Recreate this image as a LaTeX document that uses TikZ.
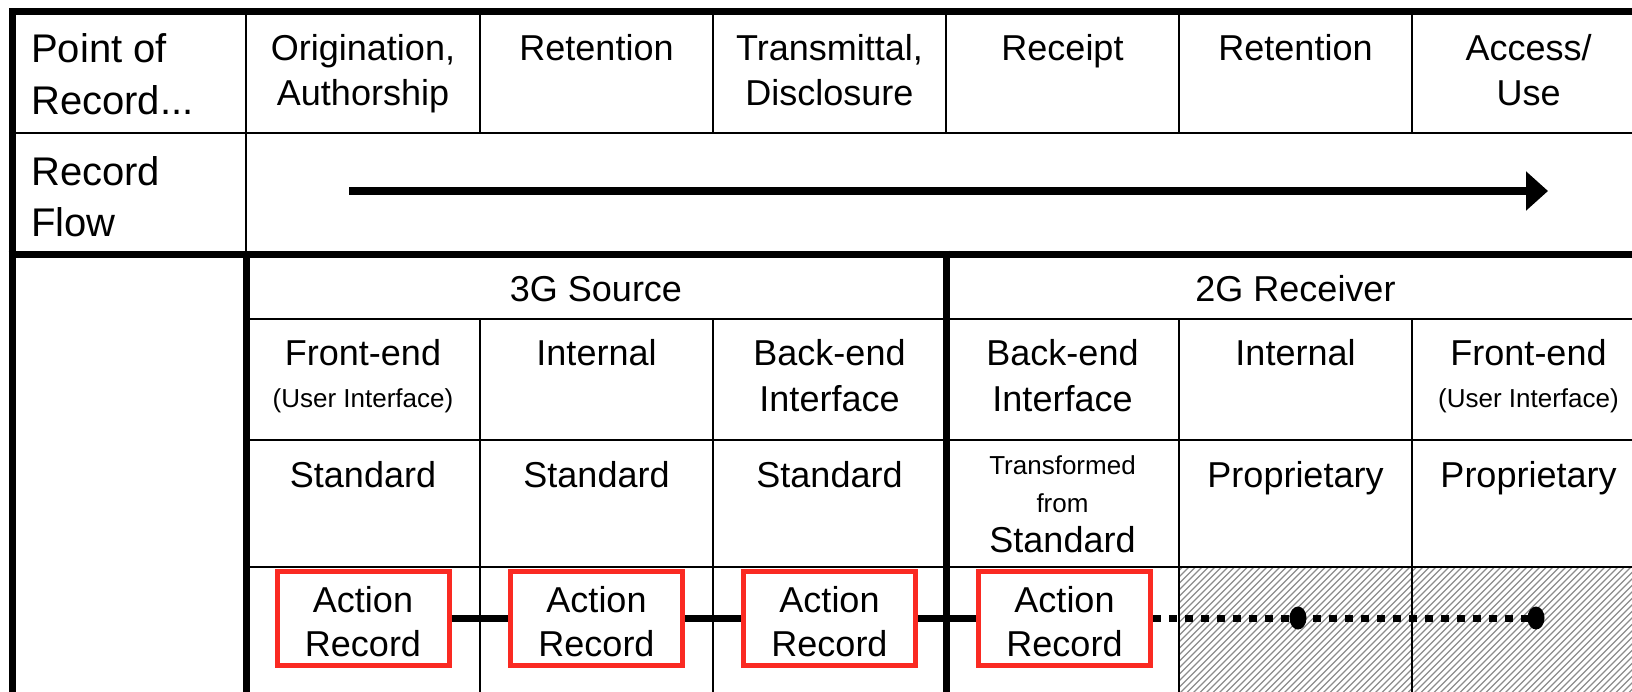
\documentclass[tikz,border=0pt]{standalone}
\usepackage{fontspec}
\setmainfont{Liberation Sans}
\usetikzlibrary{arrows.meta,shapes.geometric}
\definecolor{boxred}{RGB}{250,42,34}
\definecolor{hatchgray}{RGB}{140,140,140}

\begin{document}
\begin{tikzpicture}[x=1pt,y=-1pt,
  thinrule/.style={line width=2pt},
  thickrule/.style={line width=7pt},
  % multi-line labels are placed by the baseline of their last line
  lbl/.style={inner sep=0pt, anchor=base, align=center, font=\fontsize{36}{45}\selectfont},
  biglbl/.style={lbl, anchor=base west, align=left, font=\fontsize{40}{51.5}\selectfont},
  smalllbl/.style={lbl, font=\fontsize{26}{38}\selectfont},
  actbox/.style={draw=boxred, line width=5pt, fill=white, minimum width=172pt,
    minimum height=94pt, inner sep=0pt, align=center, text height=78pt,
    font=\fontsize{36}{44}\selectfont},
  link/.style={line width=7pt},
  dottedlink/.style={line width=7pt, dash pattern=on 8pt off 8pt},
  enddot/.style={ellipse, fill=black, minimum width=17pt, minimum height=23pt, inner sep=0pt},
  flow/.style={line width=8pt, -{Triangle[length=22pt,width=38pt]}},
  hatchline/.style={line width=1.2pt, hatchgray}
]
\useasboundingbox (0,0) rectangle (1632,691);
\fill[white] (0,0) rectangle (1632,691);

% hatched cells of the receiver's internal and front-end columns
\begin{scope}
  \clip (1179,567) rectangle (1640,700);
  \foreach \i in {0,...,100}
    \draw[hatchline] (1030+\i*6.5,700) -- ++(150,-150);
\end{scope}

% table rules
\draw[thickrule, line join=miter] (12,700) -- (12,11) -- (1640,11);
\draw[thinrule] (12,133) -- (1640,133);
\foreach \x in {480,713,946,1179,1412} \draw[thinrule] (\x,11) -- (\x,133);
\draw[thinrule] (246,11) -- (246,254);
\draw[thickrule] (8.5,254) -- (1640,254);
\draw[thickrule] (246,250.5) -- (246,700);
\draw[thickrule] (946,250.5) -- (946,700);
\foreach \y in {319,440,567} \draw[thinrule] (246,\y) -- (1640,\y);
\foreach \x in {480,713,1179,1412} \draw[thinrule] (\x,319) -- (\x,700);

% header row
\node[biglbl] (hpoint) at (31,114) {Point of\\Record...};
\node[lbl] (horig) at (363,105) {Origination,\\Authorship};
\node[lbl] (hret1) at (596.5,60) {Retention};
\node[lbl] (htrans) at (829.5,105) {Transmittal,\\Disclosure};
\node[lbl] (hrec) at (1062.5,60) {Receipt};
\node[lbl] (hret2) at (1295.5,60) {Retention};
\node[lbl] (hacc) at (1528.5,105) {Access/\\Use};

% record flow row
\node[biglbl, font=\fontsize{40}{51}\selectfont] (hflow) at (31,236.7) {Record\\Flow};
\coordinate (fs) at (349,191);
\coordinate (fe) at (1548,191);
\draw[flow] (fs) -- (fe);

% system groups
\node[lbl] (src) at (596,301.7) {3G Source};
\node[lbl] (rcv) at (1295.5,301.7) {2G Receiver};

% interface row
\node[lbl] (s1) at (363,365.5) {Front-end};
\node[smalllbl] (s1b) at (363,407) {(User Interface)};
\node[lbl] (s2) at (596.5,365.5) {Internal};
\node[lbl, font=\fontsize{36}{45.5}\selectfont] (s3) at (829.5,411) {Back-end\\Interface};
\node[lbl, font=\fontsize{36}{45.5}\selectfont] (r1) at (1062.5,411) {Back-end\\Interface};
\node[lbl] (r2) at (1295.5,365.5) {Internal};
\node[lbl] (r3) at (1528.5,365.5) {Front-end};
\node[smalllbl] (r3b) at (1528.5,407) {(User Interface)};

% format row
\node[lbl] (f1) at (363,487.5) {Standard};
\node[lbl] (f2) at (596.5,487.5) {Standard};
\node[lbl] (f3) at (829.5,487.5) {Standard};
\node[smalllbl] (f4a) at (1062.5,512) {Transformed\\from};
\node[lbl] (f4b) at (1062.5,552) {Standard};
\node[lbl] (f5) at (1295.5,487.7) {Proprietary};
\node[lbl] (f6) at (1528.5,487.7) {Proprietary};

% action records and their links
\node[actbox] (a1) at (363,618) {Action\\Record};
\node[actbox] (a2) at (596.5,618) {Action\\Record};
\node[actbox] (a3) at (829.5,618) {Action\\Record};
\node[actbox] (a4) at (1064.5,618) {Action\\Record};
\node[enddot] (d1) at (1298,618) {};
\node[enddot] (d2) at (1536,618) {};

\draw[link] (a1.east) -- (a2.west);
\draw[link] (a2.east) -- (a3.west);
\draw[link] (a3.east) -- (a4.west);
\draw[dottedlink] (a4.east) -- (d1.center) -- (d2.center);
\end{tikzpicture}
\end{document}
